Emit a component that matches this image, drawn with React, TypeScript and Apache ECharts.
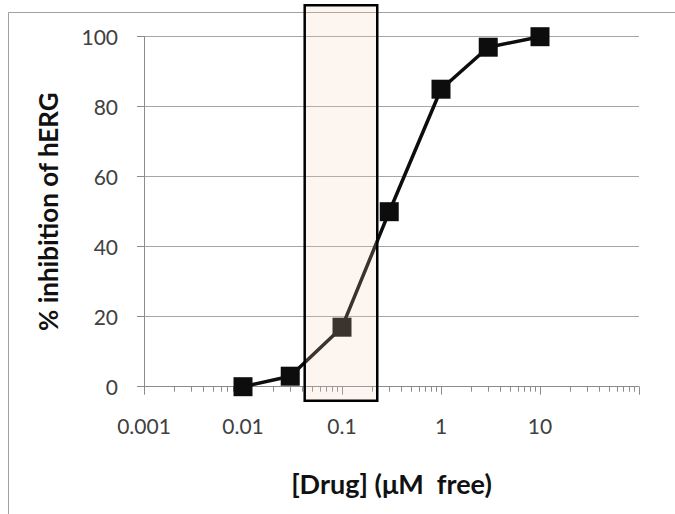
import React, { useEffect, useRef } from "react";
import * as echarts from "echarts";

// Data
const concentrations = [0.01, 0.03, 0.1, 0.3, 1, 3, 10]; // µM free
const inhibition = [0, 3, 17, 50, 85, 97, 100]; // % inhibition of hERG
const xTickValues = [0.001, 0.01, 0.1, 1, 10];
const xTickLabels = ["0.001", "0.01", "0.1", "1", "10"];
const yTickValues = [0, 20, 40, 60, 80, 100];
const boxX = [0.042, 0.227]; // shaded concentration window
const boxY = [-4, 109];

export default function App() {
  const ref = useRef<HTMLDivElement>(null);
  useEffect(() => {
    if (!ref.current) return;
    const chart = echarts.init(ref.current, null, { renderer: "svg" });
    const font = "Lato, 'Open Sans', sans-serif";
    chart.setOption({
      animation: false,
      backgroundColor: "#ffffff",
      grid: { left: 144, right: 36, top: 36.7, bottom: 127.3 },
      graphic: [
        { type: "line", shape: { x1: 8.5, y1: 12.5, x2: 8.5, y2: 514 }, style: { stroke: "#a0a0a0", lineWidth: 1 } },
        { type: "line", shape: { x1: 8.5, y1: 12.5, x2: 675, y2: 12.5 }, style: { stroke: "#a0a0a0", lineWidth: 1 } },
      ],
      xAxis: {
        type: "log",
        logBase: 10,
        min: 0.001,
        max: 100,
        name: "[Drug] (\u03bcM  free)",
        nameLocation: "middle",
        nameGap: 83,
        nameTextStyle: { fontFamily: font, fontSize: 27, fontWeight: "bold", color: "#111" },
        axisLine: { show: true, lineStyle: { color: "#8c8c8c", width: 1 } },
        axisTick: { show: true, length: 8, lineStyle: { color: "#8c8c8c" } },
        minorTick: { show: true, splitNumber: 9, length: 5, lineStyle: { color: "#8c8c8c" } },
        splitLine: { show: false },
        axisLabel: {
          margin: 28,
          fontFamily: font,
          fontSize: 21,
          color: "#404040",
          formatter: (v: number) => {
            const i = xTickValues.findIndex((t) => Math.abs(Math.log10(t) - Math.log10(v)) < 1e-6);
            return i >= 0 ? xTickLabels[i] : "";
          },
        },
      },
      yAxis: {
        type: "value",
        min: yTickValues[0],
        max: yTickValues[yTickValues.length - 1],
        interval: 20,
        name: "% inhibition of hERG",
        nameLocation: "middle",
        nameGap: 83,
        nameTextStyle: { fontFamily: font, fontSize: 26, fontWeight: "bold", color: "#111" },
        axisLine: { show: true, lineStyle: { color: "#8c8c8c", width: 1 } },
        axisTick: { show: true, length: 7, lineStyle: { color: "#8c8c8c" } },
        splitLine: { show: true, lineStyle: { color: "#a6a6a6", width: 1 } },
        axisLabel: { margin: 26, fontFamily: font, fontSize: 21, color: "#404040" },
      },
      series: [
        {
          type: "line",
          data: concentrations.map((c, i) => [c, inhibition[i]]),
          symbol: "rect",
          symbolSize: 19,
          clip: false,
          z: 2,
          itemStyle: { color: "#0d0d0d" },
          lineStyle: { color: "#0d0d0d", width: 3.5 },
        },
        {
          type: "custom",
          z: 3,
          clip: false,
          encode: { x: [0, 2], y: [1, 3] },
          data: [[boxX[0], boxY[0], boxX[1], boxY[1]]],
          renderItem: (params: any, api: any) => {
            const p1 = api.coord([api.value(0), api.value(1)]);
            const p2 = api.coord([api.value(2), api.value(3)]);
            return {
              type: "rect",
              shape: { x: p1[0], y: p2[1], width: p2[0] - p1[0], height: p1[1] - p2[1] },
              style: { fill: "rgba(245,209,179,0.2)", stroke: "#000", lineWidth: 2.5 },
            };
          },
        },
      ],
    });
    return () => chart.dispose();
  }, []);
  return <div ref={ref} style={{ width: 675, height: 514, position: "absolute", left: 0, top: 0 }} />;
}
